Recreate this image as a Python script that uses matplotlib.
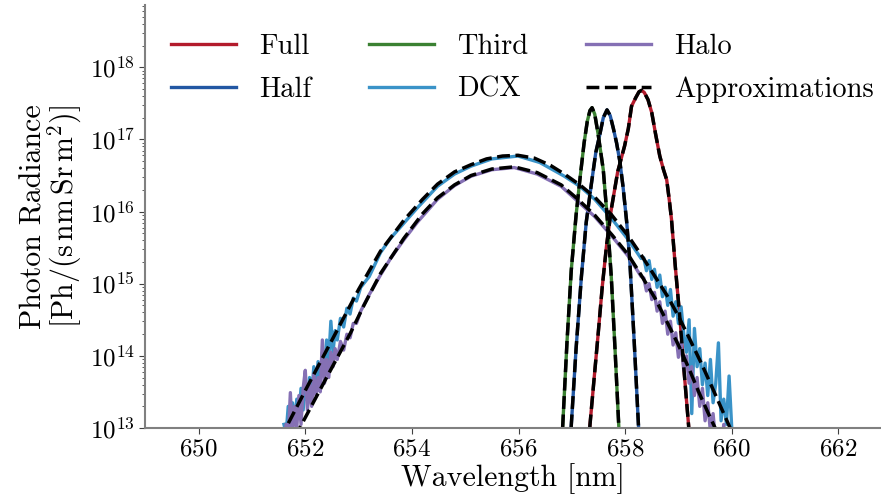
import numpy as np
import matplotlib
matplotlib.use("Agg")
import matplotlib.pyplot as plt

plt.rcParams['font.family'] = 'serif'
plt.rcParams['font.serif'] = ['cmr10']
plt.rcParams['mathtext.fontset'] = 'cm'
plt.rcParams['axes.formatter.use_mathtext'] = True

# wavelengths [nm] and log10 of photon radiance
full_wl = [657.30, 657.34, 657.42, 657.49, 657.57, 657.65, 657.74, 657.86, 657.99, 658.06,
           658.12, 658.20, 658.26, 658.31, 658.36, 658.43, 658.50, 658.57, 658.65, 658.72,
           658.78, 658.83, 658.87, 658.94, 659.03, 659.11, 659.19, 659.24]
full_lg = [12.50, 13.04, 13.70, 14.27, 14.95, 15.52, 16.03, 16.55, 16.91, 17.15,
           17.46, 17.58, 17.66, 17.68, 17.65, 17.55, 17.37, 17.08, 16.77, 16.58,
           16.44, 16.15, 15.89, 15.25, 14.50, 13.75, 13.04, 12.50]

half_wl = [656.95, 656.99, 657.08, 657.18, 657.27, 657.37, 657.45, 657.52, 657.59, 657.66,
           657.72, 657.78, 657.84, 657.90, 657.96, 658.03, 658.09, 658.17, 658.25, 658.29]
half_lg = [12.50, 13.04, 14.10, 15.10, 15.85, 16.40, 16.82, 17.05, 17.30, 17.41,
           17.33, 17.15, 16.95, 16.70, 16.35, 15.85, 15.29, 14.20, 13.04, 12.50]

third_wl = [656.79, 656.83, 656.91, 656.99, 657.08, 657.16, 657.23, 657.29, 657.34, 657.38,
            657.43, 657.49, 657.59, 657.66, 657.74, 657.81, 657.88, 657.92]
third_lg = [12.50, 13.04, 14.20, 15.19, 15.95, 16.50, 16.95, 17.25, 17.40, 17.44,
            17.35, 17.09, 16.58, 15.95, 15.10, 14.10, 13.04, 12.50]

dcx_wl = [651.60, 651.64, 651.68, 651.72, 651.76, 651.80, 651.84, 651.88, 651.92, 651.96,
          652.00, 652.04, 652.08, 652.12, 652.16, 652.20, 652.24, 652.28, 652.32, 652.36,
          652.40, 652.44, 652.48, 652.52, 652.56, 652.60, 652.66, 652.72, 652.78, 652.84,
          652.90, 652.96, 653.04, 653.20, 653.41, 653.60, 653.85, 654.10, 654.48, 654.80,
          655.11, 655.50, 655.99, 656.40, 656.86, 657.15, 657.43, 657.75, 658.06, 658.30,
          658.35, 658.40, 658.45, 658.50, 658.55, 658.60, 658.65, 658.70, 658.75, 658.80,
          658.85, 658.90, 658.95, 659.00, 659.05, 659.10, 659.15, 659.20, 659.25, 659.30,
          659.35, 659.40, 659.45, 659.50, 659.55, 659.60, 659.65, 659.70, 659.75, 659.80,
          659.85, 659.90, 659.95, 660.00, 660.05]
dcx_lg = [13.05, 12.92, 13.30, 12.98, 13.35, 13.05, 13.40, 13.18, 13.55, 13.25,
          13.60, 13.38, 13.70, 13.45, 13.85, 13.58, 13.92, 13.70, 14.05, 13.82,
          14.22, 13.95, 14.48, 14.05, 14.35, 14.22, 14.52, 14.40, 14.66, 14.58,
          14.80, 14.76, 14.95, 15.10, 15.43, 15.63, 15.84, 16.05, 16.35, 16.52,
          16.63, 16.73, 16.77, 16.68, 16.49, 16.35, 16.17, 15.90, 15.61, 15.35,
          15.36, 15.18, 15.32, 15.06, 15.20, 14.95, 15.12, 14.82, 14.95, 14.70,
          14.92, 14.55, 14.75, 14.45, 14.68, 14.30, 14.05, 14.50, 13.20, 14.38,
          13.85, 14.10, 13.60, 13.90, 13.45, 13.95, 13.35, 13.62, 14.18, 13.10,
          13.40, 13.05, 13.72, 13.00, 12.70]

halo_wl = [651.60, 651.64, 651.68, 651.72, 651.76, 651.80, 651.84, 651.88, 651.92, 651.96,
           652.00, 652.04, 652.08, 652.12, 652.16, 652.20, 652.24, 652.28, 652.32, 652.36,
           652.40, 652.44, 652.48, 652.52, 652.56, 652.60, 652.66, 652.72, 652.78, 652.84,
           652.90, 652.96, 653.04, 653.20, 653.41, 653.60, 653.85, 654.10, 654.48, 654.80,
           655.11, 655.50, 655.92, 656.35, 656.80, 657.10, 657.43, 657.75, 658.06, 658.30,
           658.35, 658.40, 658.45, 658.50, 658.55, 658.60, 658.65, 658.70, 658.75, 658.80,
           658.85, 658.90, 658.95, 659.00, 659.05, 659.10, 659.15, 659.20, 659.25, 659.30,
           659.35, 659.40, 659.45, 659.50, 659.55, 659.60, 659.65, 659.70, 659.75, 659.80,
           659.85, 659.90, 659.95, 660.00]
halo_lg = [12.80, 13.05, 12.85, 13.49, 12.90, 13.30, 13.00, 13.45, 13.05, 13.55,
           13.80, 13.25, 13.60, 13.30, 13.75, 13.45, 13.70, 13.50, 14.22, 13.62,
           13.95, 13.70, 14.05, 13.85, 14.10, 13.95, 14.20, 14.08, 14.30, 14.25,
           14.45, 14.45, 14.62, 14.85, 15.12, 15.35, 15.61, 15.85, 16.17, 16.36,
           16.49, 16.58, 16.61, 16.52, 16.35, 16.15, 15.93, 15.66, 15.38, 15.10,
           15.08, 14.90, 15.00, 14.78, 14.88, 14.62, 14.75, 14.45, 14.62, 14.30,
           14.48, 14.15, 14.32, 13.98, 14.20, 13.80, 14.00, 13.62, 13.85, 13.45,
           13.70, 13.30, 13.55, 13.10, 13.35, 12.95, 13.20, 12.80, 12.95, 12.60,
           13.05, 12.70, 12.95, 12.60]

# smooth fits for the two broad spectra
dcx_fit_wl = [651.50, 651.65, 652.00, 652.53, 653.00, 653.41, 653.85, 654.20, 654.48, 654.80,
              655.11, 655.40, 655.70, 655.99, 656.30, 656.60, 656.86, 657.15, 657.43, 657.75,
              658.06, 658.30, 658.56, 658.80, 659.00, 659.20, 659.44, 659.64, 659.82, 660.00]
dcx_fit_lg = [12.85, 13.02, 13.52, 14.26, 14.92, 15.45, 15.88, 16.17, 16.38, 16.55,
              16.65, 16.73, 16.77, 16.78, 16.74, 16.64, 16.52, 16.37, 16.20, 15.95,
              15.66, 15.40, 15.10, 14.82, 14.55, 14.25, 13.88, 13.55, 13.25, 12.95]
halo_fit_wl = [651.80, 651.91, 652.40, 652.85, 653.10, 653.41, 653.85, 654.20, 654.48, 654.80,
               655.11, 655.50, 655.92, 656.35, 656.80, 657.10, 657.43, 657.75, 658.06, 658.30,
               658.56, 658.80, 659.00, 659.20, 659.38, 659.55, 659.72]
halo_fit_lg = [12.87, 13.02, 13.70, 14.32, 14.70, 15.14, 15.63, 15.97, 16.19, 16.37,
               16.50, 16.59, 16.62, 16.54, 16.37, 16.18, 15.95, 15.68, 15.40, 15.12,
               14.80, 14.45, 14.15, 13.82, 13.50, 13.22, 12.95]

colors = {'Full': '#b31b2c', 'Half': '#2257a3', 'Third': '#3b8132',
          'DCX': '#3a93c8', 'Halo': '#8570b4'}

fig = plt.figure(figsize=(8.81, 5.0), dpi=100)
ax = fig.add_axes([0.165, 0.144, 0.835, 0.846])

series = [('Full', full_wl, full_lg), ('Half', half_wl, half_lg), ('Third', third_wl, third_lg),
          ('DCX', dcx_wl, dcx_lg), ('Halo', halo_wl, halo_lg)]
for name, wl, lg in series:
    ax.plot(wl, 10 ** np.array(lg), color=colors[name], lw=2.4, label=name)

fits = [(full_wl, full_lg), (half_wl, half_lg), (third_wl, third_lg),
        (dcx_fit_wl, dcx_fit_lg), (halo_fit_wl, halo_fit_lg)]
for i, (wl, lg) in enumerate(fits):
    ax.plot(wl, 10 ** np.array(lg), color='black', lw=2.5, ls='--',
            label='Approximations' if i == 0 else None)

ax.set_yscale('log')
ax.set_xlim(649.0, 662.8)
ax.set_ylim(1e13, 7.3e18)
ax.set_xticks([650, 652, 654, 656, 658, 660, 662])

for s in ['top', 'right']:
    ax.spines[s].set_visible(False)
for s in ['left', 'bottom']:
    ax.spines[s].set_color('#808080')
    ax.spines[s].set_linewidth(1.5)
ax.tick_params(which='both', colors='#404040', labelcolor='black', labelsize=18)
ax.tick_params(which='major', length=4)
ax.tick_params(which='minor', length=2)

ax.set_xlabel('Wavelength [nm]', fontsize=21.5, labelpad=2)
ax.set_ylabel('Photon Radiance\n' + r'$[\mathrm{Ph}/(\mathrm{s\,nm\,Sr\,m}^2)]$',
              fontsize=21.5, linespacing=0.95)

ax.legend(loc='upper left', ncol=3, frameon=False, fontsize=20.5,
          handlelength=2.3, handletextpad=0.8, columnspacing=2.02,
          labelspacing=0.58, bbox_to_anchor=(0.0, 0.993))

fig.savefig('out.png', dpi=100)
